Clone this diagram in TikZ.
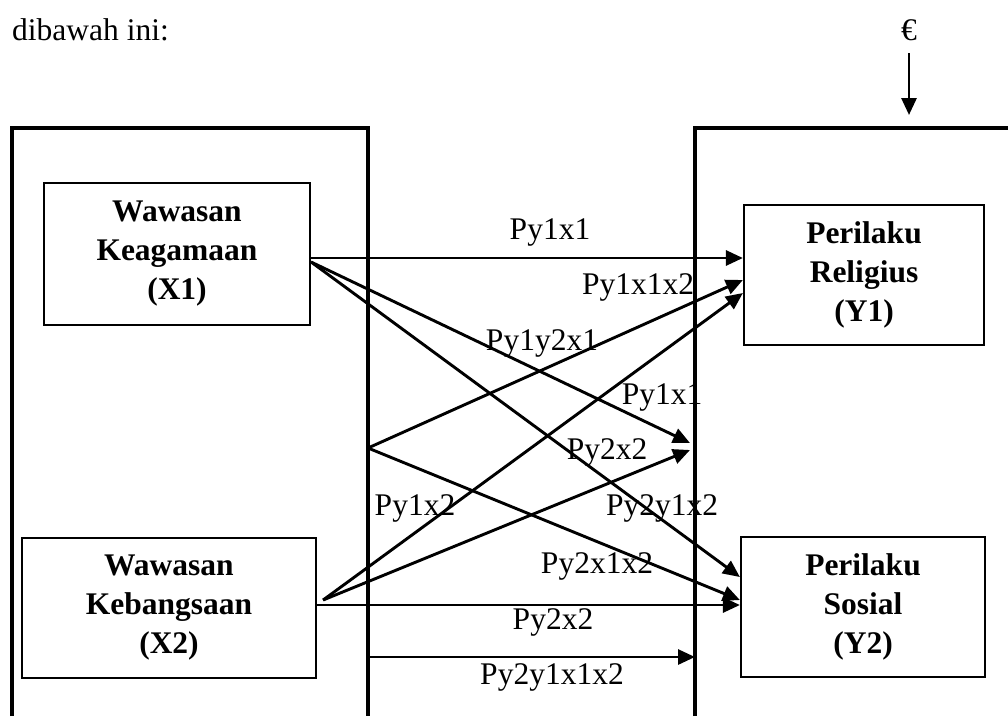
\documentclass[tikz,border=0pt]{standalone}
\usepackage{fontspec}
\setmainfont{Liberation Serif}
\usetikzlibrary{arrows.meta}
\begin{document}
\begin{tikzpicture}[x=1pt,y=-1pt,
  txt/.style={font=\fontsize{31.5}{39}\selectfont, inner sep=0pt},
  varbox/.style={draw, line width=2.2pt, align=center, inner sep=0pt,
    font=\fontsize{31.5}{39}\selectfont\bfseries},
  frame/.style={line width=3.2pt},
  conn/.style={line width=2.9pt, -{Triangle[length=17pt,width=15pt]}}]
\useasboundingbox (0,0) rectangle (1008,716);
% intro text and error term
\node[txt, anchor=west] (intro) at (12,30) {dibawah ini:};
\node[txt] (eps) at (909,30) {€};
\coordinate (epsTop) at (909,53);
\coordinate (epsEnd) at (909,115);
\draw[conn] (epsTop) -- (epsEnd);
% outer frames
\draw[frame] (12,716) -- (12,128) -- (368,128) -- (368,716);
\draw[frame] (695,716) -- (695,128) -- (1010,128);
% variable boxes
\node[varbox, minimum width=266pt, minimum height=142pt] (X1) at (177,254) {Wawasan\\Keagamaan\\(X1)};
\node[varbox, minimum width=240pt, minimum height=140pt] (Y1) at (864,275) {Perilaku\\Religius\\(Y1)};
\node[varbox, minimum width=294pt, minimum height=140pt] (X2) at (169,608) {Wawasan\\Kebangsaan\\(X2)};
\node[varbox, minimum width=244pt, minimum height=140pt] (Y2) at (863,607) {Perilaku\\Sosial\\(Y2)};
% junction coordinates
\coordinate (L) at (368,448);
\coordinate (M1) at (690,443);
\coordinate (M2) at (690,450);
\coordinate (B0) at (368,657);
\coordinate (B1) at (695,657);
% connectors
\draw[conn] ([yshift=-4pt]X1.east) -- ([yshift=17pt]Y1.west);
\draw[conn] ([yshift=-8pt]X1.east) -- (M1);
\draw[conn] ([yshift=-8pt]X1.east) -- ([yshift=30pt]Y2.west);
\draw[conn] (L) -- ([yshift=-5pt]Y1.west);
\draw[conn] (L) -- ([yshift=7pt]Y2.west);
\draw[conn] ([xshift=6pt,yshift=8pt]X2.east) -- ([yshift=-18pt]Y1.west);
\draw[conn] ([xshift=6pt,yshift=8pt]X2.east) -- (M2);
\draw[conn] ([yshift=3pt]X2.east) -- ([yshift=2pt]Y2.west);
\draw[conn] (B0) -- (B1);
% labels
\node[txt] (l1) at (550,232) {Py1x1};
\node[txt] (l2) at (638,287) {Py1x1x2};
\node[txt] (l3) at (542,343) {Py1y2x1};
\node[txt] (l4) at (662,397) {Py1x1};
\node[txt] (l5) at (607,452) {Py2x2};
\node[txt] (l6) at (415,508) {Py1x2};
\node[txt] (l7) at (662,508) {Py2y1x2};
\node[txt] (l8) at (597,566) {Py2x1x2};
\node[txt] (l9) at (553,622) {Py2x2};
\node[txt] (l10) at (552,677) {Py2y1x1x2};
\end{tikzpicture}
\end{document}
